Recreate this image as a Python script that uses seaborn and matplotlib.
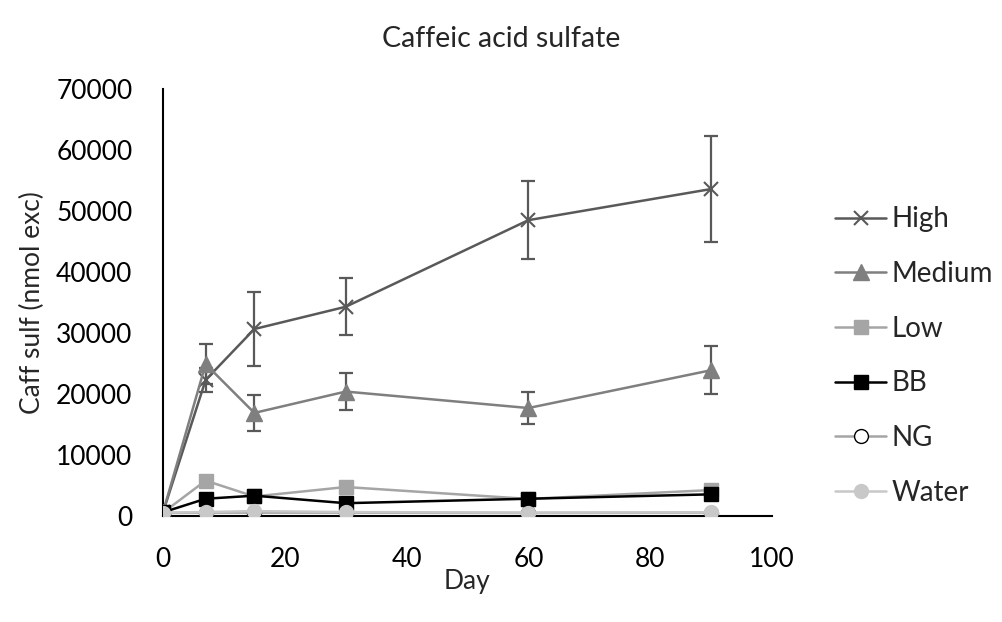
import matplotlib
matplotlib.use("Agg")
import matplotlib.pyplot as plt
import seaborn as sns
import pandas as pd

days = [0, 7, 15, 30, 60, 90]
high = [600, 22300, 30650, 34300, 48500, 53600]
high_err = [0, 2000, 6050, 4650, 6400, 8700]
medium = [600, 24900, 16900, 20400, 17700, 23900]
medium_err = [0, 3300, 2900, 3000, 2600, 3950]
low = [550, 5800, 3200, 4750, 2800, 4250]
bb = [600, 2830, 3330, 2100, 2830, 3550]
ng = [500, 550, 550, 550, 500, 550]
water = [550, 650, 800, 650, 550, 600]

series_names = ["High", "Medium", "Low", "BB", "NG", "Water"]
series_vals = [high, medium, low, bb, ng, water]
series_errs = [high_err, medium_err, None, None, None, None]

styles = {
    "High":   dict(color="#595959", marker="x", ms=10, mfc="#595959", mec="#595959", mew=1.5),
    "Medium": dict(color="#7f7f7f", marker="^", ms=11, mfc="#7f7f7f", mec="#7f7f7f", mew=1),
    "Low":    dict(color="#a5a5a5", marker="s", ms=10, mfc="#a5a5a5", mec="#a5a5a5", mew=1),
    "BB":     dict(color="#000000", marker="s", ms=10, mfc="#000000", mec="#000000", mew=1),
    "NG":     dict(color="#a5a5a5", marker="o", ms=10, mfc="#ffffff", mec="#000000", mew=1),
    "Water":  dict(color="#c8c8c8", marker="o", ms=10, mfc="#c8c8c8", mec="#c8c8c8", mew=1),
}

sns.set_style("white")
plt.rcParams["font.family"] = ["Lato", "DejaVu Sans"]

fig = plt.figure(figsize=(10.03, 6.22), dpi=100)
ax = fig.add_axes([163/1003, 1-516/622, (772-163)/1003, (516-89)/622])

for name, vals, err in zip(series_names, series_vals, series_errs):
    st = styles[name]
    df = pd.DataFrame({"Day": days, "val": vals})
    if err is not None:
        ax.errorbar(days, vals, yerr=err, fmt="none", ecolor="#595959",
                    elinewidth=1.6, capsize=5, capthick=1.6, zorder=2)
    sns.lineplot(data=df, x="Day", y="val", ax=ax, color=st["color"], lw=1.8,
                 marker=st["marker"], markersize=st["ms"], markerfacecolor=st["mfc"],
                 markeredgecolor=st["mec"], markeredgewidth=st["mew"], label=name,
                 zorder=3)

ax.set_xlim(0, 100)
ax.set_ylim(0, 70000)
ax.set_xticks([0, 20, 40, 60, 80, 100])
ax.set_yticks(range(0, 70001, 10000))
ax.tick_params(axis="both", length=0, labelsize=19, colors="black")
ax.tick_params(axis="y", pad=22)
ax.tick_params(axis="x", pad=22)
for s in ["top", "right"]:
    ax.spines[s].set_visible(False)
for s in ["left", "bottom"]:
    ax.spines[s].set_color("black")
    ax.spines[s].set_linewidth(1.5)

ax.set_xlabel("Day", fontsize=19, labelpad=-2)
ax.set_ylabel("Caff sulf (nmol exc)", fontsize=19, labelpad=8)
fig.suptitle("Caffeic acid sulfate", fontsize=20.5, x=0.5, y=0.958)

ax.legend(loc="center left", bbox_to_anchor=(835/1003, 1-356/622),
          bbox_transform=fig.transFigure, frameon=False, fontsize=20,
          handlelength=1.85, handletextpad=0.2, labelspacing=1.03, borderpad=0,
          borderaxespad=0)

fig.savefig("out.png", dpi=100)
